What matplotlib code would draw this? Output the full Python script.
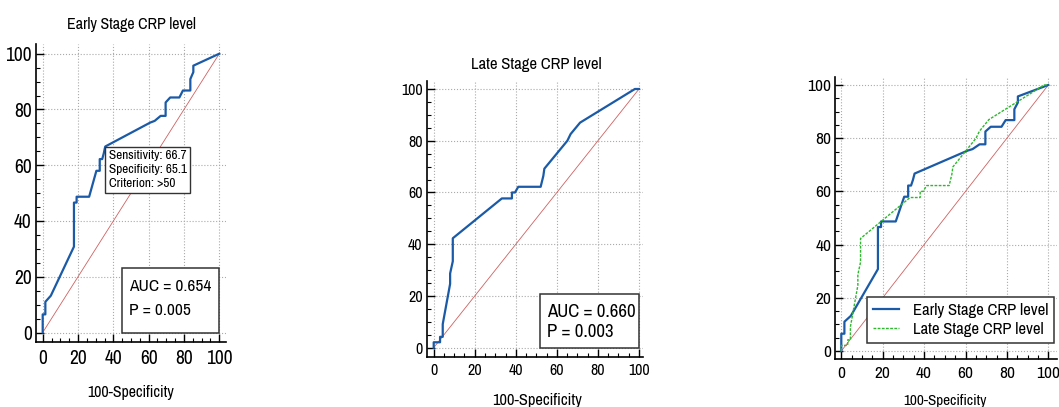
"""ROC curves for early and late stage CRP level."""

import matplotlib

matplotlib.use("Agg")

import matplotlib.pyplot as plt
from matplotlib import font_manager
from matplotlib.patches import Rectangle
from matplotlib.ticker import MultipleLocator

# narrow grotesque font, first one that is installed
installed = {f.name for f in font_manager.fontManager.ttflist}
candidates = ["Liberation Sans Narrow", "Arial Narrow", "Archivo Narrow",
              "PT Sans Narrow", "Roboto Condensed", "Liberation Sans"]
FONT = next((c for c in candidates if c in installed), "DejaVu Sans")
plt.rcParams["font.family"] = [FONT, "DejaVu Sans"]

# ROC points (100-Specificity, Sensitivity)
early_fpr = [0, 0, 1.5, 1.5, 4.6, 17.7, 17.7, 19.2, 19.2, 26.3, 30.4, 32.3,
             32.3, 33.7, 34.6, 35.4, 60.9, 63.4, 66.8, 69.6, 69.6, 72.2,
             77.4, 79.4, 83.6, 83.6, 85.3, 85.3, 100]
early_tpr = [0, 6.5, 6.5, 11.0, 13.2, 30.8, 46.6, 46.6, 48.7, 48.7, 58.0,
             58.0, 62.2, 62.2, 64.3, 66.7, 75.3, 75.9, 77.7, 77.7, 82.5,
             84.3, 84.3, 86.8, 86.8, 90.9, 93.4, 95.7, 100]

late_fpr = [0, 0, 3.1, 3.1, 4.4, 4.4, 8.0, 8.0, 9.3, 9.3, 33.2, 38.1, 38.1,
            39.6, 41.2, 52.1, 53.4, 53.9, 65.1, 66.7, 71.3, 98, 100]
late_tpr = [0, 2.1, 2.1, 4.2, 4.2, 9.1, 24.7, 28.7, 33.4, 42.3, 57.7, 57.7,
            60, 60, 62.2, 62.2, 66.4, 69.2, 80, 82.6, 87, 100, 100]

chance = [0, 100]

early_criterion = (35.4, 66.7)
early_stats = ["Sensitivity: 66.7", "Specificity: 65.1", "Criterion: >50"]
early_auc = "AUC = 0.654"
early_p = "P = 0.005"
late_auc = "AUC = 0.660"
late_p = "P = 0.003"

W, H = 1059, 407
BLUE = "#1a5aa6"
GREEN = "#2db82d"
RED = "#d06060"


def make_axes(fig, box, zero_x, hundred_x, zero_y, hundred_y, tick_size):
    left, right, top, bottom = box
    ax = fig.add_axes([left / W, 1 - bottom / H, (right - left) / W,
                       (bottom - top) / H])
    sx = (hundred_x - zero_x) / 100
    sy = (zero_y - hundred_y) / 100
    ax.set_xlim((left - zero_x) / sx, (right - zero_x) / sx)
    ax.set_ylim((zero_y - bottom) / sy, (zero_y - top) / sy)
    for side in ("top", "right"):
        ax.spines[side].set_visible(False)
    for side in ("left", "bottom"):
        ax.spines[side].set_linewidth(1.2)
    ax.xaxis.set_major_locator(MultipleLocator(20))
    ax.yaxis.set_major_locator(MultipleLocator(20))
    ax.xaxis.set_minor_locator(MultipleLocator(5))
    ax.yaxis.set_minor_locator(MultipleLocator(5))
    ax.tick_params(which="major", direction="in", length=6, width=1.0,
                   labelsize=tick_size)
    ax.tick_params(axis="x", which="major", pad=5)
    ax.tick_params(axis="y", which="major", pad=3)
    ax.tick_params(which="minor", direction="in", length=3, width=0.8)
    ax.grid(True, which="major", color="#aaaaaa", linestyle=":",
            linewidth=0.8)
    ax.set_axisbelow(True)
    ax.plot(chance, chance, color=RED, linewidth=0.6, zorder=2)
    return ax


def stat_box(ax, x0, x1, y1, lines, text_x, text_ys, size):
    ax.add_patch(Rectangle((x0, 0), x1 - x0, y1, facecolor="white",
                           edgecolor="#333333", linewidth=1.1, zorder=4))
    for text, y in zip(lines, text_ys):
        ax.text(text_x, y, text, fontsize=size, va="center", ha="left",
                zorder=5)


fig = plt.figure(figsize=(W / 100, H / 100), dpi=100)

# Early stage
ax1 = make_axes(fig, (36, 226, 44, 342), 42.7, 219.3, 332.5, 53.7, 14)
ax1.plot(early_fpr, early_tpr, color=BLUE, linewidth=1.6, zorder=3)
ax1.annotate("\n".join(early_stats), xy=early_criterion, xytext=(2.5, -2.5),
             textcoords="offset points", ha="left", va="top", fontsize=9.5,
             linespacing=1.35, zorder=6,
             bbox=dict(boxstyle="square,pad=0.25", facecolor="white",
                       edgecolor="#333333", linewidth=1.0))
stat_box(ax1, 45, 100, 23, [early_auc, early_p], 49, [16.4, 7.8], 12.5)
fig.text(131 / W, 1 - 25 / H, "Early Stage CRP level", ha="center",
         va="center", fontsize=11.5)
fig.text(131 / W, 1 - 392 / H, "100-Specificity", ha="center", va="center",
         fontsize=11.5)

# Late stage
ax2 = make_axes(fig, (426.7, 643, 80.7, 356.5), 433.7, 639, 347.7, 89, 11.5)
ax2.plot(late_fpr, late_tpr, color=BLUE, linewidth=1.6, zorder=3)
stat_box(ax2, 52, 100, 20.6, [late_auc, late_p], 55.3, [13.9, 6.2], 13.5)
fig.text(536.7 / W, 1 - 65 / H, "Late Stage CRP level", ha="center",
         va="center", fontsize=12)
fig.text(536.7 / W, 1 - 400 / H, "100-Specificity", ha="center",
         va="center", fontsize=11.8)

# Both curves
ax3 = make_axes(fig, (835.3, 1057, 76.7, 359.3), 841.3, 1048.3, 351, 85,
                12.5)
ax3.plot(early_fpr, early_tpr, color=BLUE, linewidth=1.6, zorder=3,
         label="Early Stage CRP level")
ax3.plot(late_fpr, late_tpr, color=GREEN, linewidth=1.0, zorder=3,
         dashes=(2, 1), label="Late Stage CRP level")
leg = ax3.legend(loc="lower right", bbox_to_anchor=(1054 / W, 1 - 343 / H),
                 bbox_transform=fig.transFigure, borderaxespad=0,
                 fontsize=12, handlelength=1.6, fancybox=False,
                 framealpha=1, edgecolor="#333333", borderpad=0.35,
                 labelspacing=0.25)
leg.get_frame().set_linewidth(1.1)
fig.text(945 / W, 1 - 401 / H, "100-Specificity", ha="center", va="center",
         fontsize=11)

fig.savefig("out.png", dpi=100)
